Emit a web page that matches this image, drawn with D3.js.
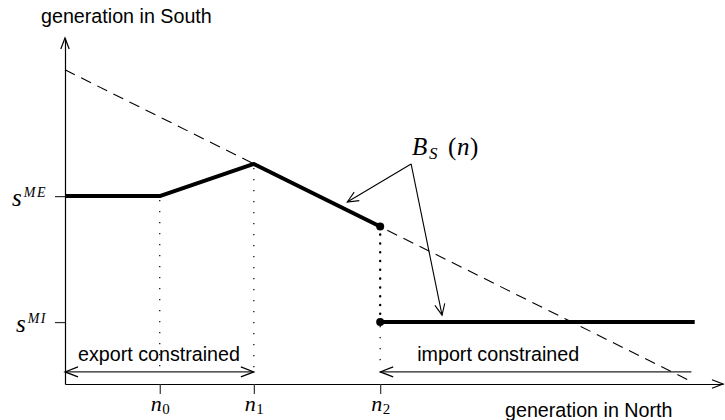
<!DOCTYPE html>
<html><head><meta charset="utf-8">
<script src="https://cdn.jsdelivr.net/npm/d3@7"></script>
<style>body{margin:0;background:#fff}svg{display:block}</style>
</head><body><svg id="c" width="725" height="420"></svg>
<script>
// ---------- data (abstract units) ----------
const xTickValues = [1.44, 2.87, 4.79];          // n0, n1, n2
const xTickSubs   = ["0", "1", "2"];
const yTickValues = [5.43, 1.79];                // s^ME, s^MI
const yTickSups   = ["ME", "MI"];
const exportBranch = [[0, 5.43], [1.44, 5.43], [2.87, 6.36], [4.79, 4.55]];
const importBranch = [[4.79, 1.79], [9.57, 1.79]];
const jumpPoints   = [[4.79, 4.55], [4.79, 1.79]];
const dashedLine   = [[0, 9.08], [9.53, 0.06]];
const guideTops    = [5.43, 6.36, 1.79];         // where thin dotted guides start at n0, n1, n2
const regimeNames  = ["export constrained", "import constrained"];
const regimeSpans  = [[0, 2.87], [4.79, 9.52]];
const regimeLevel  = 0.35;
const calloutOrigin = [5.26, 6.36];
const calloutTips   = [[4.29, 5.26], [5.73, 1.99]];
const calloutText   = {main: "B", sub: "S", arg: "n"};
const axisTitles    = ["generation in North", "generation in South"];

// ---------- setup ----------
const svg = d3.select("#c");
const x = d3.scaleLinear().domain([0, 10]).range([65, 723]);
const y = d3.scaleLinear().domain([0, 10]).range([384, 38]);
const SANS = "'Liberation Sans', Arial, Helvetica, sans-serif";
const SERIF = "'Liberation Serif', 'Times New Roman', serif";
const SANS_SIZE = 19.7;

function openHead(g, tip, from, len, half, w) {
  const dx = tip[0] - from[0], dy = tip[1] - from[1];
  const L = Math.hypot(dx, dy), ux = dx / L, uy = dy / L;
  const bx = tip[0] - ux * len, by = tip[1] - uy * len;
  const px = -uy * half, py = ux * half;
  g.append("path")
    .attr("d", `M${bx + px},${by + py}L${tip[0]},${tip[1]}L${bx - px},${by - py}`)
    .attr("fill", "none").attr("stroke", "#000").attr("stroke-width", w || 1.1)
    .attr("stroke-linejoin", "miter");
}

// ---------- dashed line ----------
svg.append("path")
  .attr("d", d3.line().x(d => x(d[0])).y(d => y(d[1]))(dashedLine))
  .attr("fill", "none").attr("stroke", "#000").attr("stroke-width", 1.1)
  .attr("stroke-dasharray", "11,7");

// ---------- thin dotted guides ----------
xTickValues.forEach((v, i) => {
  svg.append("line")
    .attr("x1", x(v)).attr("x2", x(v))
    .attr("y1", y(guideTops[i]) + 4).attr("y2", y(regimeLevel) - 2)
    .attr("stroke", "#000").attr("stroke-width", 1.2)
    .attr("stroke-dasharray", "1.2,9.8");
});
// thick dotted jump at n2
svg.append("line")
  .attr("x1", x(jumpPoints[0][0])).attr("x2", x(jumpPoints[1][0]))
  .attr("y1", y(jumpPoints[0][1]) + 8).attr("y2", y(jumpPoints[1][1]) - 5)
  .attr("stroke", "#000").attr("stroke-width", 2.4)
  .attr("stroke-linecap", "round").attr("stroke-dasharray", "0.1,8.7");

// ---------- axes ----------
const gx = svg.append("g").attr("transform", `translate(0,${y(0)})`)
  .call(d3.axisBottom(x).tickValues(xTickValues).tickSize(10).tickSizeOuter(0));
const gy = svg.append("g").attr("transform", `translate(${x(0)},0)`)
  .call(d3.axisLeft(y).tickValues(yTickValues).tickSize(10).tickSizeOuter(0));
[gx, gy].forEach(g => {
  g.select(".domain").attr("stroke", "#000").attr("stroke-width", 1.2);
  g.selectAll(".tick line").attr("stroke", "#333").attr("stroke-width", 1.2);
});
gx.selectAll(".tick text").each(function (d, i) {
  const t = d3.select(this).text(null)
    .attr("y", 11).attr("dy", "0.71em")
    .attr("font-family", SERIF).attr("font-size", 22).attr("fill", "#000");
  t.append("tspan").attr("font-style", "italic").text("n");
  t.append("tspan").attr("font-size", 15).attr("dy", 3).attr("dx", 0.5).text(xTickSubs[i]);
});
gy.selectAll(".tick text").each(function (d, i) {
  const t = d3.select(this).text(null)
    .attr("x", -18).attr("y", 9).attr("dy", 0)
    .attr("font-family", SERIF).attr("font-size", 25).attr("fill", "#000")
    .attr("text-anchor", "end").attr("font-style", "italic");
  t.append("tspan").text("s");
  t.append("tspan").attr("font-size", 14).attr("dy", -9).attr("dx", 2)
    .attr("letter-spacing", 1.5).text(yTickSups[i]);
});
// axis arrowheads
openHead(svg, [x(10), y(0)], [x(0), y(0)], 11, 4.2, 1.2);
openHead(svg, [x(0), y(10)], [x(0), y(0)], 11, 4.2, 1.2);

// ---------- best response ----------
const line = d3.line().x(d => x(d[0])).y(d => y(d[1]));
[exportBranch, importBranch].forEach(b => {
  svg.append("path").attr("d", line(b))
    .attr("fill", "none").attr("stroke", "#000").attr("stroke-width", 4)
    .attr("stroke-linejoin", "round");
});
svg.selectAll("circle.jp").data(jumpPoints).join("circle")
  .attr("class", "jp").attr("cx", d => x(d[0])).attr("cy", d => y(d[1])).attr("r", 4)
  .attr("fill", "#000");

// ---------- regime arrows ----------
regimeSpans.forEach((s, i) => {
  const yy = y(regimeLevel);
  svg.append("line").attr("x1", x(s[0])).attr("x2", x(s[1]))
    .attr("y1", yy).attr("y2", yy).attr("stroke", "#222").attr("stroke-width", 1.2);
  openHead(svg, [x(s[0]), yy], [x(s[1]), yy], 13, 5, 1.2);
  if (i === 0) openHead(svg, [x(s[1]), yy], [x(s[0]), yy], 13, 5, 1.2);
  svg.append("text").attr("x", x(s[0]) + (i === 0 ? 13 : 37)).attr("y", yy - 11)
    .attr("font-family", SANS).attr("font-size", SANS_SIZE).attr("fill", "#000")
    .text(regimeNames[i]);
});

// ---------- callout ----------
calloutTips.forEach(t => {
  const o = [x(calloutOrigin[0]), y(calloutOrigin[1])], p = [x(t[0]), y(t[1])];
  svg.append("line").attr("x1", o[0]).attr("y1", o[1]).attr("x2", p[0]).attr("y2", p[1])
    .attr("stroke", "#000").attr("stroke-width", 1.1);
  openHead(svg, p, o, 11, 5, 1.1);
});
const cx0 = x(calloutOrigin[0]) + 1, cy0 = y(calloutOrigin[1]) - 9;
const ct = svg.append("text").attr("font-family", SERIF).attr("font-size", 25).attr("fill", "#000");
ct.append("tspan").attr("x", cx0).attr("y", cy0).attr("font-style", "italic").text(calloutText.main);
ct.append("tspan").attr("x", cx0 + 17).attr("y", cy0 + 4).attr("font-size", 17).attr("font-style", "italic").text(calloutText.sub);
ct.append("tspan").attr("x", cx0 + 36).attr("y", cy0).text("(");
ct.append("tspan").attr("x", cx0 + 45).attr("y", cy0).attr("font-style", "italic").text(calloutText.arg);
ct.append("tspan").attr("x", cx0 + 58).attr("y", cy0).text(")");

// ---------- axis titles ----------
svg.append("text").attr("x", 505).attr("y", 417)
  .attr("font-family", SANS).attr("font-size", SANS_SIZE).attr("fill", "#000").text(axisTitles[0]);
svg.append("text").attr("x", 41).attr("y", 23)
  .attr("font-family", SANS).attr("font-size", SANS_SIZE).attr("fill", "#000").text(axisTitles[1]);
</script></body></html>
